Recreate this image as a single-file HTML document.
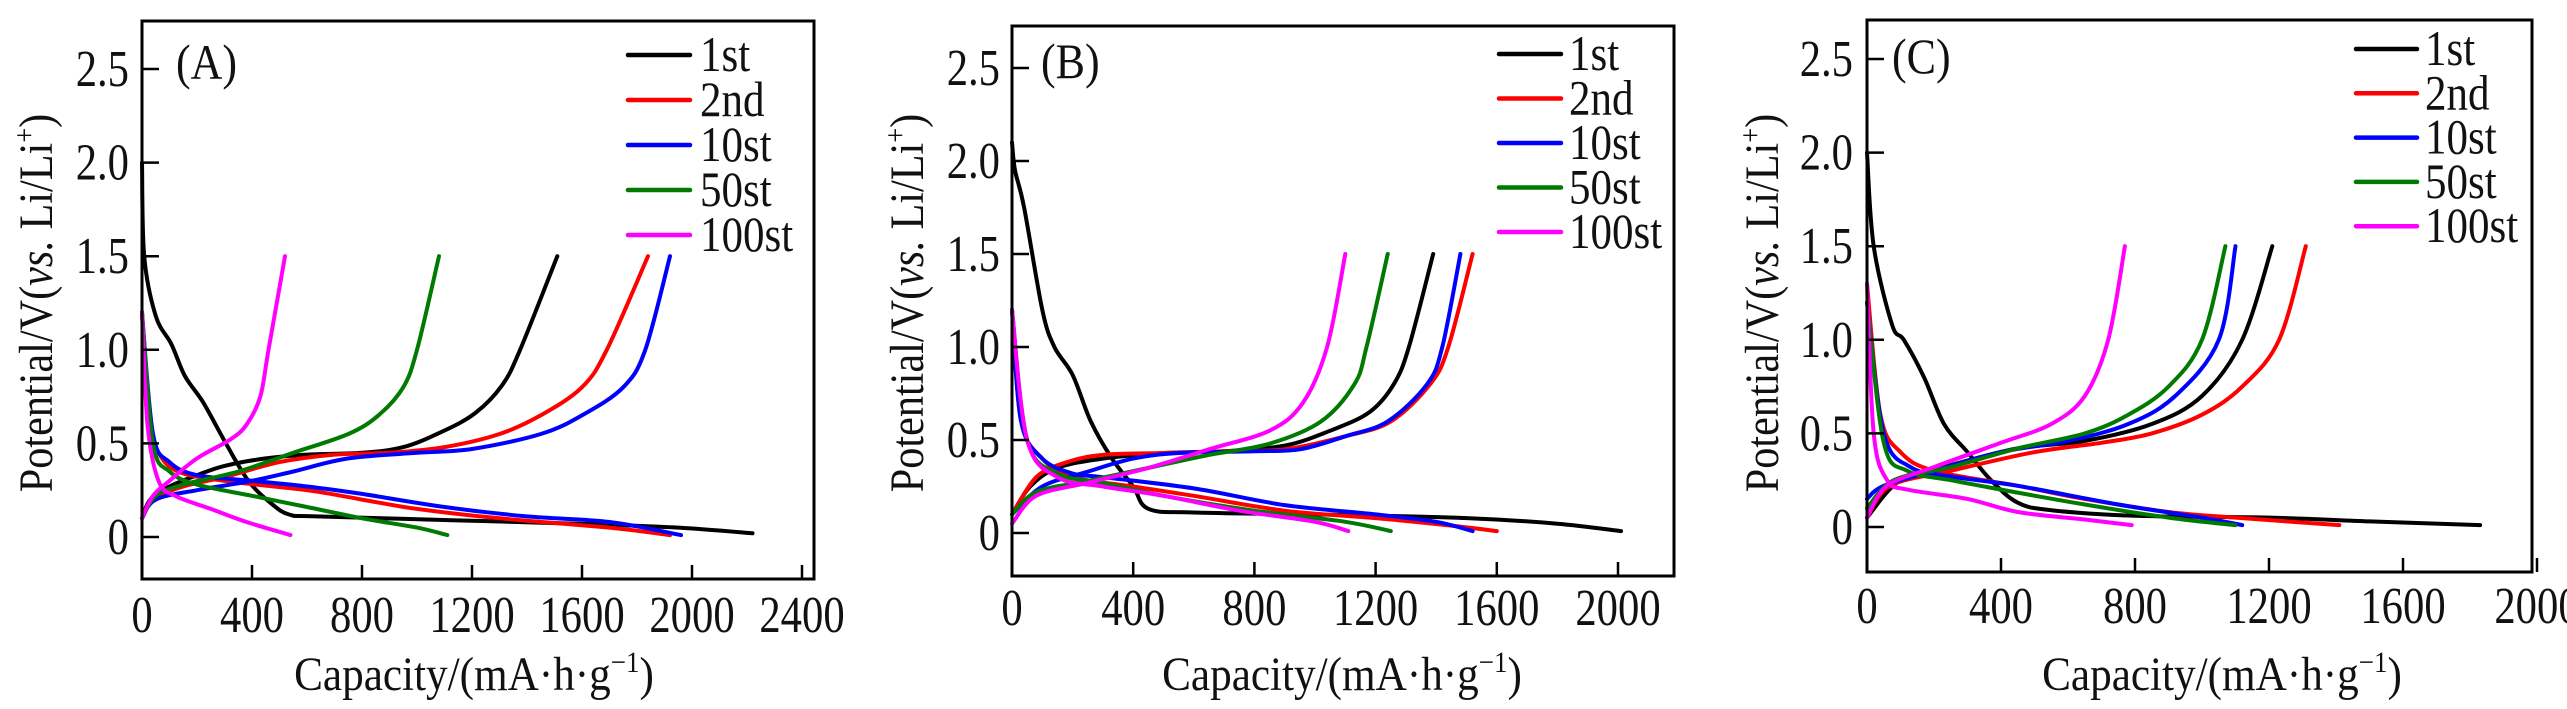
<!DOCTYPE html>
<html><head><meta charset="utf-8"><style>
html,body{margin:0;padding:0;background:#fff;}
svg{display:block;}
text{font-family:"Liberation Serif","Times New Roman","DejaVu Serif",serif;fill:#111;}
</style></head><body>
<svg id="chart" width="2567" height="709" viewBox="0 0 2567 709"></svg>
<script>
// ---- data: [capacity mAh/g, potential V] ----
const A_1st_dis=[[0,2.0],[8,1.5],[50,1.18],[107,1.03],[156,0.86],[222,0.72],[305,0.5],[387,0.3],[469,0.18],[535,0.12],[634,0.11],[1128,0.09],[1600,0.07],[1950,0.05],[2220,0.02]];
const A_1st_chg=[[0,0.1],[30,0.2],[100,0.27],[200,0.33],[300,0.38],[450,0.42],[600,0.44],[800,0.45],[950,0.48],[1087,0.56],[1210,0.66],[1309,0.81],[1375,1.0],[1510,1.5]];
const A_2nd_dis=[[0,1.2],[25,0.6],[60,0.45],[130,0.35],[300,0.3],[600,0.25],[800,0.2],[1000,0.15],[1300,0.1],[1700,0.05],[1920,0.01]];
const A_2nd_chg=[[0,0.1],[40,0.2],[150,0.27],[300,0.32],[500,0.4],[700,0.44],[900,0.45],[1100,0.48],[1300,0.55],[1450,0.65],[1600,0.8],[1690,1.0],[1840,1.5]];
const A_10_dis=[[0,1.2],[40,0.55],[100,0.4],[200,0.33],[400,0.3],[600,0.27],[800,0.23],[1100,0.16],[1400,0.11],[1700,0.08],[1960,0.01]];
const A_10_chg=[[0,0.1],[50,0.2],[200,0.25],[400,0.3],[550,0.35],[750,0.42],[1000,0.45],[1200,0.47],[1450,0.55],[1600,0.65],[1750,0.8],[1830,1.0],[1920,1.5]];
const A_50_dis=[[0,1.2],[40,0.5],[100,0.35],[200,0.28],[400,0.22],[600,0.16],[800,0.1],[1000,0.05],[1110,0.01]];
const A_50_chg=[[0,0.1],[50,0.22],[150,0.28],[350,0.35],[550,0.45],[750,0.55],[860,0.65],[950,0.8],[1000,1.0],[1080,1.5]];
const A_100_dis=[[0,1.2],[20,0.6],[60,0.3],[120,0.22],[250,0.15],[380,0.08],[540,0.01]];
const A_100_chg=[[0,0.1],[40,0.22],[100,0.3],[200,0.42],[320,0.52],[380,0.6],[430,0.75],[460,1.0],[520,1.5]];

const B_1st_dis=[[0,2.1],[10,1.95],[40,1.75],[100,1.2],[140,1.0],[200,0.85],[260,0.6],[330,0.4],[400,0.25],[450,0.13],[600,0.11],[1000,0.1],[1500,0.08],[1800,0.05],[2010,0.01]];
const B_1st_chg=[[0,0.1],[60,0.25],[150,0.35],[300,0.4],[500,0.43],[700,0.44],[900,0.47],[1050,0.55],[1180,0.65],[1260,0.8],[1310,1.0],[1390,1.5]];
const B_2nd_dis=[[0,1.2],[30,0.6],[100,0.4],[200,0.3],[400,0.25],[600,0.2],[900,0.12],[1200,0.08],[1450,0.04],[1600,0.01]];
const B_2nd_chg=[[0,0.1],[80,0.3],[180,0.38],[300,0.42],[500,0.43],[700,0.44],[900,0.45],[1100,0.52],[1250,0.6],[1380,0.8],[1440,1.0],[1520,1.5]];
const B_10_dis=[[0,1.2],[30,0.6],[100,0.4],[200,0.32],[300,0.3],[600,0.24],[900,0.15],[1200,0.1],[1400,0.06],[1520,0.01]];
const B_10_chg=[[0,0.1],[100,0.25],[250,0.33],[400,0.4],[550,0.43],[800,0.44],[950,0.45],[1100,0.52],[1240,0.6],[1370,0.8],[1420,1.0],[1480,1.5]];
const B_50_dis=[[0,1.2],[50,0.5],[150,0.32],[300,0.27],[500,0.2],[800,0.12],[1100,0.06],[1250,0.01]];
const B_50_chg=[[0,0.1],[80,0.22],[250,0.28],[450,0.35],[650,0.42],[850,0.48],[1020,0.6],[1130,0.8],[1170,1.0],[1240,1.5]];
const B_100_dis=[[0,1.2],[50,0.5],[150,0.3],[300,0.25],[500,0.2],[750,0.12],[1000,0.06],[1110,0.01]];
const B_100_chg=[[0,0.05],[80,0.2],[250,0.27],[450,0.35],[650,0.45],[850,0.55],[960,0.7],[1040,1.0],[1100,1.5]];

const C_1st_dis=[[0,2.0],[20,1.5],[75,1.08],[110,1.0],[170,0.8],[230,0.55],[300,0.4],[370,0.25],[450,0.13],[550,0.09],[800,0.06],[1200,0.05],[1500,0.03],[1830,0.01]];
const C_1st_chg=[[0,0.05],[100,0.25],[250,0.33],[450,0.42],[650,0.46],[850,0.55],[1000,0.7],[1120,1.0],[1210,1.5]];
const C_2nd_dis=[[0,1.3],[40,0.6],[100,0.4],[200,0.3],[450,0.22],[650,0.15],[900,0.08],[1100,0.05],[1410,0.01]];
const C_2nd_chg=[[0,0.05],[70,0.22],[250,0.3],[500,0.4],[700,0.45],[850,0.5],[1000,0.6],[1120,0.75],[1230,1.0],[1310,1.5]];
const C_10_dis=[[0,1.2],[50,0.5],[130,0.32],[250,0.27],[450,0.22],[750,0.12],[1000,0.05],[1120,0.01]];
const C_10_chg=[[0,0.15],[50,0.22],[200,0.3],[400,0.4],[600,0.46],[780,0.55],[920,0.7],[1050,1.0],[1100,1.5]];
const C_50_dis=[[0,1.2],[50,0.45],[120,0.3],[250,0.25],[400,0.2],[650,0.12],[900,0.05],[1100,0.01]];
const C_50_chg=[[0,0.1],[80,0.25],[250,0.32],[450,0.42],[650,0.5],[780,0.6],[900,0.75],[1000,1.0],[1070,1.5]];
const C_100_dis=[[0,1.3],[20,0.5],[60,0.25],[120,0.2],[300,0.15],[450,0.08],[650,0.04],[790,0.01]];
const C_100_chg=[[0,0.05],[60,0.22],[200,0.32],[400,0.45],[550,0.55],[650,0.7],[720,1.0],[770,1.5]];

const cycleLabels=["1st","2nd","10st","50st","100st"];
const cycleColors=["#000000","#ff0000","#0000ff","#007a00","#ff00ff"];
const yTicks=[0,0.5,1.0,1.5,2.0,2.5];
const yTickLabels=["0","0.5","1.0","1.5","2.0","2.5"];
const xTicksA=[0,400,800,1200,1600,2000,2400];
const xTicksBC=[0,400,800,1200,1600,2000];

const NS="http://www.w3.org/2000/svg";
const svg=document.getElementById('chart');
function mk(tag,attrs,parent){const e=document.createElementNS(NS,tag);for(const k in attrs)e.setAttribute(k,attrs[k]);(parent||svg).appendChild(e);return e;}
// condensed text: scale horizontally around anchor x
function ctext(parent,x,y,anchor,size,sx){
  return mk('text',{x:0,y:0,"text-anchor":anchor,"font-size":size,transform:"translate("+x+","+y+") scale("+sx+",1)"},parent);
}
function smooth(pts){
  let d="M"+pts[0][0].toFixed(1)+","+pts[0][1].toFixed(1);
  for(let i=0;i<pts.length-1;i++){
    const p0=pts[i-1]||pts[i],p1=pts[i],p2=pts[i+1],p3=pts[i+2]||p2;
    const c1=[p1[0]+(p2[0]-p0[0])/6,p1[1]+(p2[1]-p0[1])/6];
    const c2=[p2[0]-(p3[0]-p1[0])/6,p2[1]-(p3[1]-p1[1])/6];
    d+=" C"+c1[0].toFixed(1)+","+c1[1].toFixed(1)+" "+c2[0].toFixed(1)+","+c2[1].toFixed(1)+" "+p2[0].toFixed(1)+","+p2[1].toFixed(1);
  }
  return d;
}

const panels=[
 {id:"a",tag:"(A)",L:142,R:814,T:21,B:579,x400:110,y0:537,yHalf:93.6,xt:xTicksA,lblRight:129,xlBase:632,yTitleX:36,xTitleX:474,legX1:628,legX2:690,legTx:700,legY:55,legDy:45,tagX:176,
  series:[[A_1st_dis,A_1st_chg],[A_2nd_dis,A_2nd_chg],[A_10_dis,A_10_chg],[A_50_dis,A_50_chg],[A_100_dis,A_100_chg]]},
 {id:"b",tag:"(B)",L:1012,R:1674,T:26,B:576,x400:121.2,y0:533,yHalf:93,xt:xTicksBC,lblRight:1000,xlBase:625,yTitleX:907,xTitleX:1342,legX1:1499,legX2:1561,legTx:1569,legY:54,legDy:44.5,tagX:1041,
  series:[[B_1st_dis,B_1st_chg],[B_2nd_dis,B_2nd_chg],[B_10_dis,B_10_chg],[B_50_dis,B_50_chg],[B_100_dis,B_100_chg]]},
 {id:"c",tag:"(C)",L:1867,R:2532,T:20,B:572,x400:134,y0:527,yHalf:93.6,xt:xTicksBC,lblRight:1853,xlBase:623,yTitleX:1762,xTitleX:2222,legX1:2356,legX2:2417,legTx:2425,legY:49,legDy:44.3,tagX:1892,
  series:[[C_1st_dis,C_1st_chg],[C_2nd_dis,C_2nd_chg],[C_10_dis,C_10_chg],[C_50_dis,C_50_chg],[C_100_dis,C_100_chg]]}
];

panels.forEach(p=>{
  const g=mk('g',{});
  
  
  const xs=v=>p.L+v/400*p.x400;
  const ys=v=>p.y0-v/0.5*p.yHalf;
  p.series.forEach((pair,i)=>{
    pair.forEach((arr,j)=>{
      const path=mk('path',{d:smooth(arr.map(q=>[xs(q[0]),ys(q[1])])),fill:"none",stroke:cycleColors[i],"stroke-width":4,"stroke-linecap":"round","stroke-linejoin":"round"},g);
      
      
    });
  });
  const fr=mk('rect',{x:p.L,y:p.T,width:p.R-p.L,height:p.B-p.T,fill:"none",stroke:"#000","stroke-width":3},g);
  
  
  yTicks.forEach((v,k)=>{
    const y=ys(v);
    const t=mk('line',{x1:p.L,x2:p.L+17,y1:y,y2:y,stroke:"#000","stroke-width":2.5},g);
    
    
    const lb=ctext(g,p.lblRight,y+17,"end",52,0.82);
    lb.textContent=yTickLabels[k];
    
    
  });
  p.xt.forEach(v=>{
    const x=xs(v);
    if(v>0){
      const t=mk('line',{x1:x,x2:x,y1:p.B,y2:p.B-14,stroke:"#000","stroke-width":2.5},g);
      
      
    }
    const lb=ctext(g,x,p.xlBase,"middle",52,0.82);
    lb.textContent=String(v);
    
    
  });
  const xt=ctext(g,p.xTitleX,690,"middle",48,0.9);
  xt.innerHTML='Capacity/(mA·h·g<tspan dy="-18" font-size="30">−1</tspan><tspan dy="18">)</tspan>';
  
  
  const yt=mk('text',{x:0,y:0,"text-anchor":"middle","font-size":48,transform:"translate("+(p.yTitleX+16)+",303) rotate(-90) scale(0.88,1)"},g);
  yt.innerHTML='Potential/V(<tspan font-style="italic">vs.</tspan> Li/Li<tspan dy="-18" font-size="30">+</tspan><tspan dy="18">)</tspan>';
  
  
  const tg=ctext(g,p.tagX,p.legY+24,"start",50,0.88);
  tg.textContent=p.tag;
  
  
  cycleLabels.forEach((lab,i)=>{
    const y=p.legY+i*p.legDy;
    const eg=mk('g',{},g);
    
    
    mk('line',{x1:p.legX1,x2:p.legX2,y1:y,y2:y,stroke:cycleColors[i],"stroke-width":4.5,"stroke-linecap":"round"},eg);
    const tx=ctext(eg,p.legTx,y+16,"start",50,0.86);
    tx.textContent=lab;
  });
});
</script>
</body></html>
